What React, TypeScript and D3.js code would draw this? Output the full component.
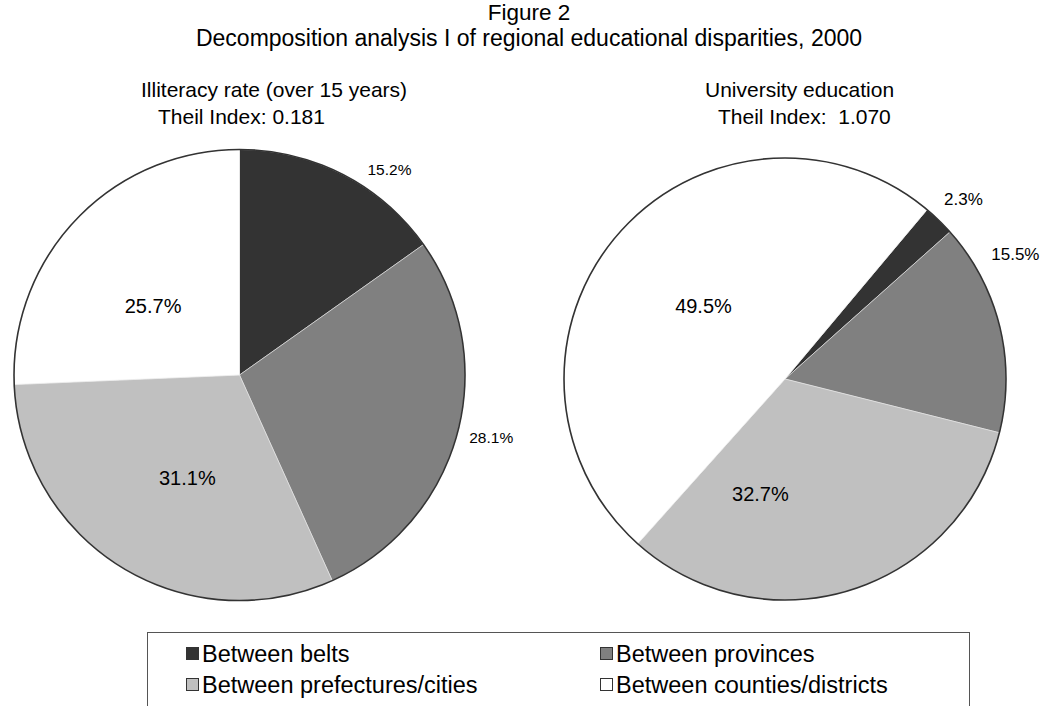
import React from "react";
import * as d3 from "d3";

const categories = [
  "Between belts",
  "Between provinces",
  "Between prefectures/cities",
  "Between counties/districts",
];
const colors = ["#333333", "#808080", "#c0c0c0", "#ffffff"];

const illiteracyValues = [15.2, 28.1, 31.1, 25.7];
const universityValues = [2.3, 15.5, 32.7, 49.5];

const illiteracyLabels = ["15.2%", "28.1%", "31.1%", "25.7%"];
const universityLabels = ["2.3%", "15.5%", "32.7%", "49.5%"];

// label placement: outside (true) or inside, with nudges from the slice anchor
const illiteracyOutside = [true, true, false, false];
const universityOutside = [true, true, false, false];
const illiteracyNudge = [[34, 19], [8, -4], [7, 7], [-5, 9]];
const universityNudge = [[6, -2], [-10, -65], [-57, 9], [2, -1]];

const FONT = "'Liberation Sans', Arial, Helvetica, sans-serif";

type PieProps = {
  cx: number;
  cy: number;
  r: number;
  values: number[];
  labels: string[];
  outside: boolean[];
  nudge: number[][];
  startDeg: number;
  outFont: number;
};

function Pie({ cx, cy, r, values, labels, outside, nudge, startDeg, outFont }: PieProps) {
  const start = (startDeg * Math.PI) / 180;
  const pie = d3
    .pie<number>()
    .sort(null)
    .value((d) => d)
    .startAngle(start)
    .endAngle(start + 2 * Math.PI);
  const arcs = pie(values);
  const arc = d3.arc<d3.PieArcDatum<number>>().innerRadius(0).outerRadius(r);
  const inLabel = d3.arc<d3.PieArcDatum<number>>().innerRadius(r).outerRadius(0);
  const outLabel = d3
    .arc<d3.PieArcDatum<number>>()
    .innerRadius(r * 1.12)
    .outerRadius(r * 1.12);
  return (
    <g transform={`translate(${cx},${cy})`}>
      {arcs.map((a, i) => (
        <path key={i} d={arc(a) || ""} fill={colors[i]} stroke="#e8e8e8" strokeWidth={0.6} />
      ))}
      <circle r={r} fill="none" stroke="#333333" strokeWidth={1.6} />
      {arcs.map((a, i) => {
        const [x, y] = outside[i] ? outLabel.centroid(a) : inLabel.centroid(a);
        return (
          <text
            key={"t" + i}
            x={x + nudge[i][0]}
            y={y + nudge[i][1]}
            textAnchor="middle"
            dominantBaseline="central"
            fontSize={outside[i] ? outFont : 20}
            fontFamily={FONT}
            fill="#000"
          >
            {labels[i]}
          </text>
        );
      })}
    </g>
  );
}

export default function App() {
  const W = 1051;
  const H = 706;
  return (
    <svg
      width={W}
      height={H}
      style={{ position: "absolute", left: 0, top: 0, background: "#fff" }}
      fontFamily={FONT}
    >
      <rect width={W} height={H} fill="#fff" />
      <text x={529} y={20} textAnchor="middle" fontSize={22.5}>
        Figure 2
      </text>
      <text x={529} y={46} textAnchor="middle" fontSize={23}>
        Decomposition analysis I of regional educational disparities, 2000
      </text>
      <text x={141} y={97} fontSize={21}>
        Illiteracy rate (over 15 years)
      </text>
      <text x={158} y={124} fontSize={21}>
        Theil Index: 0.181
      </text>
      <text x={705} y={97} fontSize={21}>
        University education
      </text>
      <text x={718} y={124} fontSize={21} style={{ whiteSpace: "pre" }}>
        {"Theil Index:  1.070"}
      </text>

      <Pie
        cx={239.5}
        cy={375}
        r={225.5}
        values={illiteracyValues}
        labels={illiteracyLabels}
        outside={illiteracyOutside}
        nudge={illiteracyNudge}
        startDeg={0}
        outFont={15.5}
      />
      <Pie
        cx={785}
        cy={379}
        r={221}
        values={universityValues}
        labels={universityLabels}
        outside={universityOutside}
        nudge={universityNudge}
        startDeg={40}
        outFont={17}
      />

      <rect x={147.5} y={632.5} width={822} height={90} fill="#fff" stroke="#555" strokeWidth={1} />
      {categories.map((c, i) => {
        const col = i % 2;
        const row = Math.floor(i / 2);
        const x = col === 0 ? 186 : 600;
        const y = row === 0 ? 654 : 685;
        return (
          <g key={c}>
            <rect x={x + 0.5} y={y - 6.5} width={12} height={12} fill={colors[i]} stroke="#333" strokeWidth={1} />
            <text x={x + 16} y={y + 8} fontSize={23.5}>
              {c}
            </text>
          </g>
        );
      })}
    </svg>
  );
}
